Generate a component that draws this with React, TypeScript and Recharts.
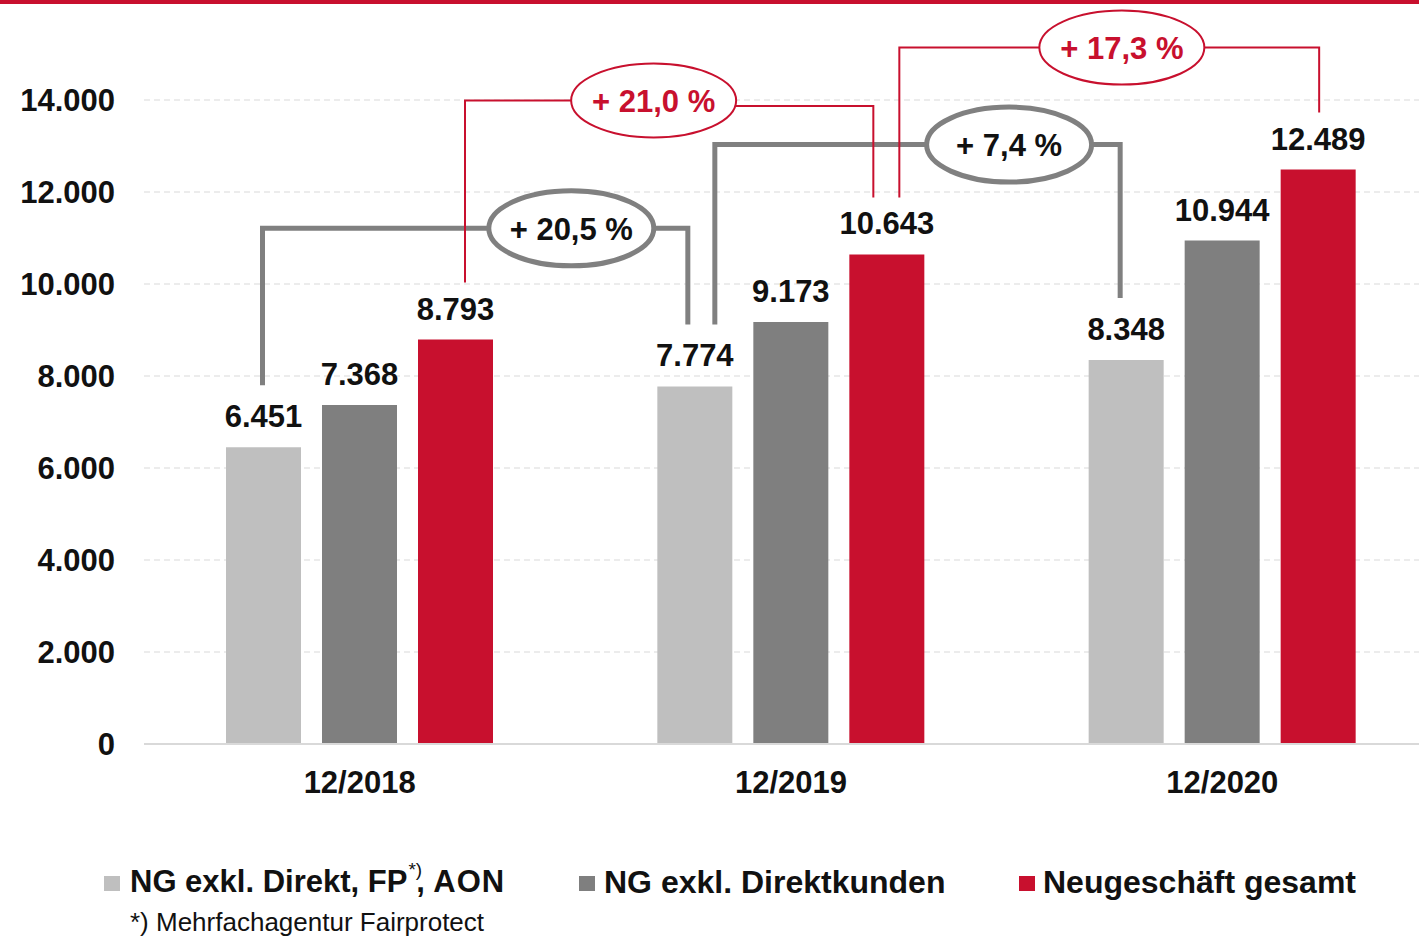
import { Bar, BarChart, CartesianGrid, LabelList, XAxis, YAxis } from "recharts";

// Neugeschäft (Stück) per year-end, three series per period.
const PERIODS = ["12/2018", "12/2019", "12/2020"];
const NG_EXKL_DIREKT_FP_AON = [6451, 7774, 8348];
const NG_EXKL_DIREKTKUNDEN = [7368, 9173, 10944];
const NEUGESCHAEFT_GESAMT = [8793, 10643, 12489];
const Y_TICKS = [0, 2000, 4000, 6000, 8000, 10000, 12000, 14000];

// Growth brackets between consecutive periods. `level` is the value (y-axis
// units) where the horizontal run of the bracket sits.
const GRAY_BRACKETS = [
  { from: 0, to: 1, label: "+ 20,5 %", level: 11210 },
  { from: 1, to: 2, label: "+ 7,4 %", level: 13030 },
];
const RED_BRACKETS = [
  { from: 0, to: 1, label: "+ 21,0 %", level: 13990, levelEnd: 13870 },
  { from: 1, to: 2, label: "+ 17,3 %", level: 15140 },
];

// Cosmetic nudges for the bracket legs (px from bar centre) and the
// position of the pill along the bracket (0..1).
const GRAY_LAYOUT = [
  { dx1: -1, dx2: -7, pos: 0.726 },
  { dx1: 20, dx2: -6, pos: 0.726 },
];
const RED_LAYOUT = [
  { dx1: 9.5, dx2: -13.5, pos: 0.462 },
  { dx1: 12.5, dx2: 1, pos: 0.53 },
];

const RED = "#c8102e";
const LIGHT = "#bfbfbf";
const DARK = "#7f7f7f";
const LINE_GRAY = "#808080";
const TEXT = "#111111";
const FONT = "'Liberation Sans', Arial, Helvetica, sans-serif";

const CHART_W = 1440;
const CHART_H = 830;
const MARGIN = { top: 100, right: 2, bottom: 26, left: 0 };
const Y_AXIS_W = 144;
const X_AXIS_H = 60;
const BAND = (CHART_W - MARGIN.left - MARGIN.right - Y_AXIS_W) / PERIODS.length;

const fmt = (v: number) => String(v).replace(/\B(?=(\d{3})+(?!\d))/g, ".");

const rows = PERIODS.map((period, i) => ({
  period,
  light: NG_EXKL_DIREKT_FP_AON[i],
  dark: NG_EXKL_DIREKTKUNDEN[i],
  red: NEUGESCHAEFT_GESAMT[i],
}));

type Bracket = { from: number; to: number; label: string; level: number; levelEnd?: number };
type BracketLayout = { dx1: number; dx2: number; pos: number };

function makeBracket(
  values: number[],
  brackets: Bracket[],
  layout: BracketLayout[],
  look: { stroke: string; strokeWidth: number; textFill: string; rx: number; ry: number; gap: number },
) {
  return function BracketLabel(props: any) {
    const i: number = props.index;
    const bi = brackets.findIndex((b) => b.from === i);
    if (bi < 0) return null;
    const b = brackets[bi];
    const l = layout[bi];
    const vb = props.viewBox ?? props;
    const { x, y, width, height } = vb;
    if ([x, y, width, height].some((n) => typeof n !== "number")) return null;

    const bottom = y + height;
    const perUnit = height / values[i];
    const yOf = (v: number) => bottom - v * perUnit;

    const x1 = x + width / 2 + l.dx1;
    const x2 = x + width / 2 + BAND * (b.to - b.from) + l.dx2;
    const y1 = y - look.gap;
    const y2 = yOf(values[b.to]) - look.gap;
    const yl = yOf(b.level);
    const yr = yOf(b.levelEnd ?? b.level);
    const cx = x1 + (x2 - x1) * l.pos;

    return (
      <g>
        <path
          d={`M${x1},${y1} V${yl} H${cx} M${cx},${yr} H${x2} V${y2}`}
          fill="none"
          stroke={look.stroke}
          strokeWidth={look.strokeWidth}
          strokeLinejoin="miter"
        />
        <ellipse
          cx={cx}
          cy={yl}
          rx={look.rx}
          ry={look.ry}
          fill="#ffffff"
          stroke={look.stroke}
          strokeWidth={look.strokeWidth}
        />
        <text
          x={cx}
          y={yl}
          dy="0.36em"
          textAnchor="middle"
          fontFamily={FONT}
          fontSize={31}
          fontWeight={700}
          fill={look.textFill}
        >
          {b.label}
        </text>
      </g>
    );
  };
}

const GrayBracket = makeBracket(NG_EXKL_DIREKT_FP_AON, GRAY_BRACKETS, GRAY_LAYOUT, {
  stroke: LINE_GRAY,
  strokeWidth: 5,
  textFill: TEXT,
  rx: 82.5,
  ry: 37.5,
  gap: 62,
});
const RedBracket = makeBracket(NEUGESCHAEFT_GESAMT, RED_BRACKETS, RED_LAYOUT, {
  stroke: RED,
  strokeWidth: 2,
  textFill: RED,
  rx: 82.5,
  ry: 37,
  gap: 57,
});

const valueLabelStyle = { fill: TEXT, fontSize: 31, fontWeight: 700, fontFamily: FONT };

const LEGEND = [
  { key: "light", color: LIGHT, left: 104, textLeft: 130, size: 31 },
  { key: "dark", color: DARK, left: 579, textLeft: 604, size: 32 },
  { key: "red", color: RED, left: 1019, textLeft: 1043, size: 32 },
];

function LegendText({ k }: { k: string }) {
  if (k === "light")
    return (
      <>
        NG exkl. Direkt, FP
        <span
          style={{
            position: "relative",
            top: -16,
            fontSize: 19,
            fontWeight: 400,
            marginLeft: 1,
            marginRight: -6,
          }}
        >
          *)
        </span>
        , <span style={{ letterSpacing: 1 }}>AON</span>
      </>
    );
  if (k === "dark") return <>NG exkl. Direktkunden</>;
  return <>Neugeschäft gesamt</>;
}

export default function App() {
  return (
    <div
      style={{
        position: "absolute",
        left: 0,
        top: 0,
        width: 1419,
        height: 937,
        overflow: "hidden",
        background: "#ffffff",
        fontFamily: FONT,
      }}
    >
      <div style={{ position: "absolute", left: 0, top: 0, width: "100%", height: 4, background: RED }} />
      <div style={{ position: "absolute", left: 0, top: 0 }}>
        <BarChart width={CHART_W} height={CHART_H} data={rows} margin={MARGIN} barGap={21}>
          <CartesianGrid vertical={false} stroke="#d9d9d9" strokeDasharray="6 4" />
          <XAxis
            dataKey="period"
            height={X_AXIS_H}
            tickSize={0}
            tickMargin={27}
            axisLine={{ stroke: "#d9d9d9", strokeWidth: 2 }}
            tickLine={false}
            tick={{ fill: TEXT, fontSize: 31, fontWeight: 700, fontFamily: FONT }}
          />
          <YAxis
            type="number"
            domain={[0, 14000]}
            ticks={Y_TICKS}
            width={Y_AXIS_W}
            tickSize={0}
            tickMargin={29}
            axisLine={false}
            tickLine={false}
            tickFormatter={fmt}
            tick={{ fill: TEXT, fontSize: 31, fontWeight: 700, fontFamily: FONT }}
          />
          <Bar dataKey="light" name="NG exkl. Direkt, FP*), AON" fill={LIGHT} barSize={75} isAnimationActive={false}>
            <LabelList dataKey="light" position="top" offset={20} formatter={(v: any) => fmt(Number(v))} style={valueLabelStyle} />
            <LabelList dataKey="light" content={GrayBracket} />
          </Bar>
          <Bar dataKey="dark" name="NG exkl. Direktkunden" fill={DARK} barSize={75} isAnimationActive={false}>
            <LabelList dataKey="dark" position="top" offset={20} formatter={(v: any) => fmt(Number(v))} style={valueLabelStyle} />
          </Bar>
          <Bar dataKey="red" name="Neugeschäft gesamt" fill={RED} barSize={75} isAnimationActive={false}>
            <LabelList dataKey="red" position="top" offset={20} formatter={(v: any) => fmt(Number(v))} style={valueLabelStyle} />
            <LabelList dataKey="red" content={RedBracket} />
          </Bar>
        </BarChart>
      </div>

      {LEGEND.map((it) => (
        <div key={it.key}>
          <div
            style={{
              position: "absolute",
              left: it.left,
              top: 876,
              width: 16,
              height: 15,
              background: it.color,
            }}
          />
          <div
            style={{
              position: "absolute",
              left: it.textLeft,
              top: 866,
              fontSize: it.size,
              lineHeight: "32px",
              fontWeight: 700,
              color: TEXT,
              whiteSpace: "nowrap",
            }}
          >
            <LegendText k={it.key} />
          </div>
        </div>
      ))}
      <div
        style={{
          position: "absolute",
          left: 130,
          top: 909,
          fontSize: 26,
          lineHeight: "26px",
          color: TEXT,
          whiteSpace: "nowrap",
        }}
      >
        *) Mehrfachagentur Fairprotect
      </div>
    </div>
  );
}
